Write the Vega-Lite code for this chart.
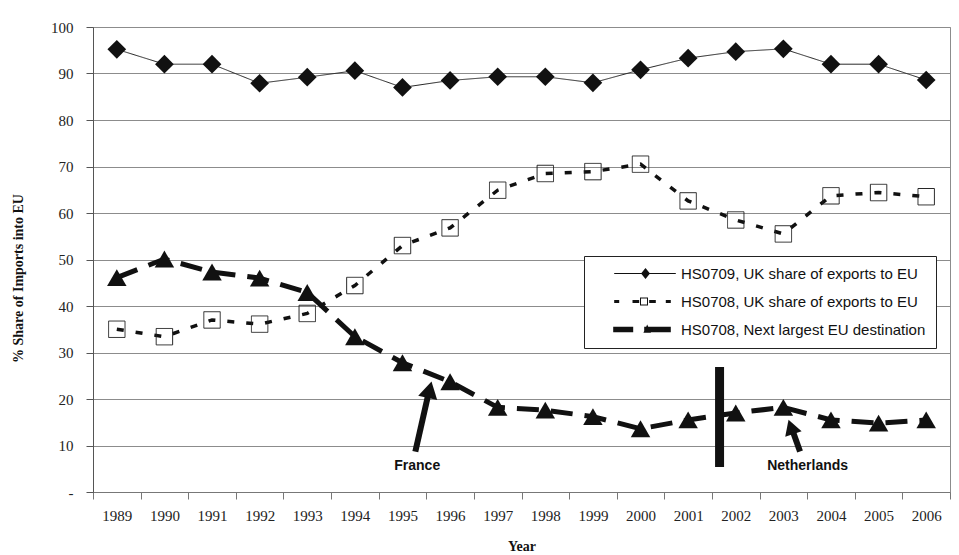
{
  "$schema": "https://vega.github.io/schema/vega-lite/v6.json",
  "width": 857,
  "height": 465,
  "autosize": "none",
  "padding": {"left": 93, "top": 27, "right": 9, "bottom": 63},
  "background": "white",
  "config": {
    "view": {"stroke": "#8c8c8c", "strokeWidth": 1},
    "font": "Liberation Serif"
  },
  "datasets": {
    "shares": [
      {"year": 1989, "series": "HS0709, UK share of exports to EU", "value": 95.2},
      {"year": 1990, "series": "HS0709, UK share of exports to EU", "value": 92.0},
      {"year": 1991, "series": "HS0709, UK share of exports to EU", "value": 92.0},
      {"year": 1992, "series": "HS0709, UK share of exports to EU", "value": 87.9},
      {"year": 1993, "series": "HS0709, UK share of exports to EU", "value": 89.2},
      {"year": 1994, "series": "HS0709, UK share of exports to EU", "value": 90.6},
      {"year": 1995, "series": "HS0709, UK share of exports to EU", "value": 87.0},
      {"year": 1996, "series": "HS0709, UK share of exports to EU", "value": 88.5},
      {"year": 1997, "series": "HS0709, UK share of exports to EU", "value": 89.3},
      {"year": 1998, "series": "HS0709, UK share of exports to EU", "value": 89.3},
      {"year": 1999, "series": "HS0709, UK share of exports to EU", "value": 88.0},
      {"year": 2000, "series": "HS0709, UK share of exports to EU", "value": 90.8},
      {"year": 2001, "series": "HS0709, UK share of exports to EU", "value": 93.3},
      {"year": 2002, "series": "HS0709, UK share of exports to EU", "value": 94.7},
      {"year": 2003, "series": "HS0709, UK share of exports to EU", "value": 95.3},
      {"year": 2004, "series": "HS0709, UK share of exports to EU", "value": 92.0},
      {"year": 2005, "series": "HS0709, UK share of exports to EU", "value": 92.0},
      {"year": 2006, "series": "HS0709, UK share of exports to EU", "value": 88.6},
      {"year": 1989, "series": "HS0708, UK share of exports to EU", "value": 35.0},
      {"year": 1990, "series": "HS0708, UK share of exports to EU", "value": 33.4},
      {"year": 1991, "series": "HS0708, UK share of exports to EU", "value": 37.0},
      {"year": 1992, "series": "HS0708, UK share of exports to EU", "value": 36.1},
      {"year": 1993, "series": "HS0708, UK share of exports to EU", "value": 38.4},
      {"year": 1994, "series": "HS0708, UK share of exports to EU", "value": 44.4},
      {"year": 1995, "series": "HS0708, UK share of exports to EU", "value": 53.0},
      {"year": 1996, "series": "HS0708, UK share of exports to EU", "value": 56.8},
      {"year": 1997, "series": "HS0708, UK share of exports to EU", "value": 64.9},
      {"year": 1998, "series": "HS0708, UK share of exports to EU", "value": 68.5},
      {"year": 1999, "series": "HS0708, UK share of exports to EU", "value": 68.9},
      {"year": 2000, "series": "HS0708, UK share of exports to EU", "value": 70.5},
      {"year": 2001, "series": "HS0708, UK share of exports to EU", "value": 62.6},
      {"year": 2002, "series": "HS0708, UK share of exports to EU", "value": 58.5},
      {"year": 2003, "series": "HS0708, UK share of exports to EU", "value": 55.5},
      {"year": 2004, "series": "HS0708, UK share of exports to EU", "value": 63.7},
      {"year": 2005, "series": "HS0708, UK share of exports to EU", "value": 64.4},
      {"year": 2006, "series": "HS0708, UK share of exports to EU", "value": 63.5},
      {"year": 1989, "series": "HS0708, Next largest EU destination", "value": 46.1},
      {"year": 1990, "series": "HS0708, Next largest EU destination", "value": 50.1},
      {"year": 1991, "series": "HS0708, Next largest EU destination", "value": 47.3},
      {"year": 1992, "series": "HS0708, Next largest EU destination", "value": 46.0},
      {"year": 1993, "series": "HS0708, Next largest EU destination", "value": 42.9},
      {"year": 1994, "series": "HS0708, Next largest EU destination", "value": 33.4},
      {"year": 1995, "series": "HS0708, Next largest EU destination", "value": 27.8},
      {"year": 1996, "series": "HS0708, Next largest EU destination", "value": 23.7},
      {"year": 1997, "series": "HS0708, Next largest EU destination", "value": 18.2},
      {"year": 1998, "series": "HS0708, Next largest EU destination", "value": 17.6},
      {"year": 1999, "series": "HS0708, Next largest EU destination", "value": 16.2},
      {"year": 2000, "series": "HS0708, Next largest EU destination", "value": 13.6},
      {"year": 2001, "series": "HS0708, Next largest EU destination", "value": 15.5},
      {"year": 2002, "series": "HS0708, Next largest EU destination", "value": 17.0},
      {"year": 2003, "series": "HS0708, Next largest EU destination", "value": 18.2},
      {"year": 2004, "series": "HS0708, Next largest EU destination", "value": 15.5},
      {"year": 2005, "series": "HS0708, Next largest EU destination", "value": 14.8},
      {"year": 2006, "series": "HS0708, Next largest EU destination", "value": 15.5}
    ],
    "notes": [
      {"note": "France", "tailYear": 1995.27, "tailValue": 8.7, "shaftYear": 1995.54, "shaftValue": 20.9, "headYear": 1995.57, "headValue": 22.0, "textYear": 1995.31, "textValue": 5.6},
      {"note": "Netherlands", "tailYear": 2003.35, "tailValue": 8.7, "shaftYear": 2003.2, "shaftValue": 13.0, "headYear": 2003.16, "headValue": 14.0, "textYear": 2003.51, "textValue": 5.6}
    ],
    "divider": [
      {"year": 2001.66, "low": 5.4, "high": 26.9}
    ]
  },
  "layer": [
    {
      "data": {"name": "shares"},
      "encoding": {
        "x": {
          "field": "year",
          "type": "ordinal",
          "scale": {"type": "band", "paddingInner": 0, "paddingOuter": 0},
          "axis": {
            "title": "Year",
            "titleFont": "Liberation Serif",
            "titleFontSize": 14,
            "titleFontWeight": "bold",
            "titleColor": "#111",
            "titlePadding": 16,
            "labelAngle": 0,
            "labelFont": "Liberation Serif",
            "labelFontSize": 15,
            "labelColor": "#222",
            "labelPadding": 9,
            "tickBand": "extent",
            "tickSize": 7,
            "tickColor": "#777",
            "domainColor": "#777",
            "grid": false
          }
        },
        "y": {
          "field": "value",
          "type": "quantitative",
          "scale": {"domain": [0, 100], "nice": false},
          "axis": {
            "title": "% Share of Imports into EU",
            "titleFont": "Liberation Serif",
            "titleFontSize": 14,
            "titleFontWeight": "bold",
            "titleColor": "#111",
            "titleX": -75,
            "titleY": 251,
            "titleAngle": -90,
            "titleAlign": "center",
            "titleBaseline": "middle",
            "values": [0, 10, 20, 30, 40, 50, 60, 70, 80, 90, 100],
            "labelExpr": "datum.value == 0 ? '-' : datum.label",
            "labelFont": "Liberation Serif",
            "labelFontSize": 15,
            "labelColor": "#222",
            "labelPadding": 13,
            "tickSize": 7,
            "tickColor": "#555",
            "domainColor": "#555",
            "grid": true,
            "gridColor": "#8c8c8c"
          }
        },
        "strokeDash": {
          "field": "series",
          "type": "nominal",
          "scale": {
            "domain": ["HS0709, UK share of exports to EU", "HS0708, UK share of exports to EU", "HS0708, Next largest EU destination"],
            "range": [[1, 0], [7, 12], [22, 12]]
          },
          "legend": {
            "orient": "none",
            "legendX": 491,
            "legendY": 229,
            "title": null,
            "padding": 10,
            "fillColor": "white",
            "strokeColor": "#222",
            "labelFont": "Liberation Sans",
            "labelFontSize": 15,
            "labelColor": "#111",
            "labelLimit": 0,
            "labelOffset": 72,
            "symbolSize": 100,
            "symbolStrokeWidth": 0,
            "symbolFillColor": "#111",
            "symbolStrokeColor": "transparent",
            "symbolOpacity": 1,
            "symbolType": {"expr": "datum.value === 'HS0709, UK share of exports to EU' ? 'M2.54,-0.1H14.86V0.1H2.54Z M8.8,-1.1L9.7,0L8.8,1.1L7.9,0Z' : datum.value === 'HS0708, UK share of exports to EU' ? 'M2.54,-0.3H3.54V0.3H2.54Z M6.2,-0.3H7.54V0.3H6.2Z M7.7,-0.8H9.3V0.8H7.7Z M7.9,-0.6V0.6H9.1V-0.6Z M9.54,-0.3H10.86V0.3H9.54Z M12.86,-0.3H13.86V0.3H12.86Z' : 'M2.34,-0.55H6.34V0.55H2.34Z M8.54,-0.55H13.86V0.55H8.54Z M9.14,-1L9.9,0.66H8.38Z'"},
            "rowPadding": 12
          }
        }
      },
      "layer": [
        {
          "transform": [{"filter": "datum.series === 'HS0709, UK share of exports to EU'"}],
          "mark": {"type": "line", "color": "#222", "strokeWidth": 1}
        },
        {
          "transform": [{"filter": "datum.series === 'HS0708, UK share of exports to EU'"}],
          "mark": {"type": "line", "color": "#111", "strokeWidth": 3.5}
        },
        {
          "transform": [{"filter": "datum.series === 'HS0708, Next largest EU destination'"}],
          "mark": {"type": "line", "color": "#111", "strokeWidth": 5}
        },
        {
          "transform": [{"filter": "datum.series === 'HS0709, UK share of exports to EU'"}],
          "mark": {"type": "point", "shape": "diamond", "filled": true, "color": "#111", "size": 350, "opacity": 1},
          "encoding": {"strokeDash": {"value": [1, 0]}}
        },
        {
          "transform": [{"filter": "datum.series === 'HS0708, UK share of exports to EU'"}],
          "mark": {"type": "point", "shape": "square", "filled": false, "color": "#222", "strokeWidth": 1, "size": 270, "opacity": 1},
          "encoding": {"strokeDash": {"value": [1, 0]}}
        },
        {
          "transform": [{"filter": "datum.series === 'HS0708, Next largest EU destination'"}],
          "mark": {"type": "point", "shape": "triangle-up", "filled": true, "color": "#111", "size": 380, "opacity": 1},
          "encoding": {"strokeDash": {"value": [1, 0]}}
        }
      ]
    },
    {
      "layer": [
        {
          "data": {"name": "divider"},
          "mark": {"type": "rule", "color": "#111", "strokeWidth": 9},
          "encoding": {
            "x": {"field": "year", "type": "quantitative", "scale": {"domain": [1988.5, 2006.5], "nice": false, "zero": false}, "axis": null},
            "y": {"field": "low", "type": "quantitative"},
            "y2": {"field": "high"}
          }
        },
        {
          "data": {"name": "notes"},
          "mark": {"type": "rule", "color": "#111", "strokeWidth": 6},
          "encoding": {
            "x": {"field": "tailYear", "type": "quantitative", "scale": {"domain": [1988.5, 2006.5], "nice": false, "zero": false}, "axis": null},
            "x2": {"field": "shaftYear"},
            "y": {"field": "tailValue", "type": "quantitative"},
            "y2": {"field": "shaftValue"}
          }
        },
        {
          "data": {"name": "notes"},
          "transform": [{"filter": "datum.note === 'France'"}],
          "mark": {"type": "point", "shape": "triangle-up", "filled": true, "color": "#111", "size": 380, "angle": 13, "opacity": 1},
          "encoding": {
            "x": {"field": "headYear", "type": "quantitative", "scale": {"domain": [1988.5, 2006.5], "nice": false, "zero": false}, "axis": null},
            "y": {"field": "headValue", "type": "quantitative"}
          }
        },
        {
          "data": {"name": "notes"},
          "transform": [{"filter": "datum.note === 'Netherlands'"}],
          "mark": {"type": "point", "shape": "triangle-up", "filled": true, "color": "#111", "size": 300, "angle": 341, "opacity": 1},
          "encoding": {
            "x": {"field": "headYear", "type": "quantitative", "scale": {"domain": [1988.5, 2006.5], "nice": false, "zero": false}, "axis": null},
            "y": {"field": "headValue", "type": "quantitative"}
          }
        },
        {
          "data": {"name": "notes"},
          "mark": {"type": "text", "font": "Liberation Sans", "fontSize": 14, "fontWeight": "bold", "color": "#111", "align": "center", "baseline": "middle"},
          "encoding": {
            "x": {"field": "textYear", "type": "quantitative", "scale": {"domain": [1988.5, 2006.5], "nice": false, "zero": false}, "axis": null},
            "y": {"field": "textValue", "type": "quantitative"},
            "text": {"field": "note"}
          }
        }
      ]
    }
  ],
  "resolve": {"scale": {"x": "independent"}}
}
